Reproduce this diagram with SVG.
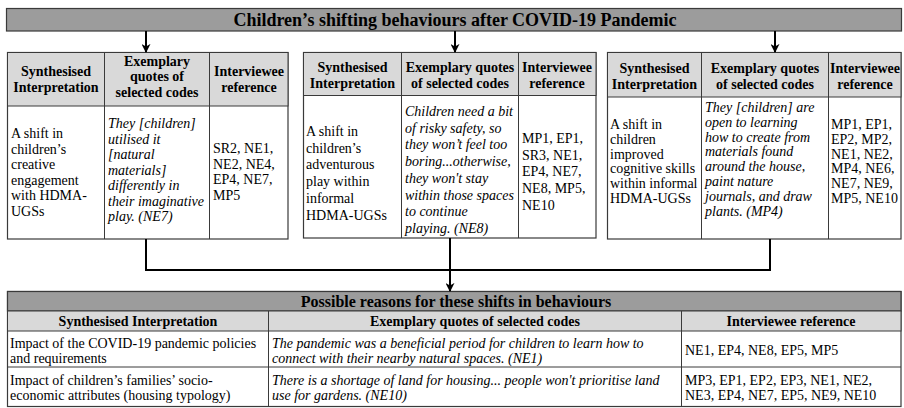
<svg xmlns="http://www.w3.org/2000/svg" width="904" height="408" viewBox="0 0 904 408">
<style>
text{font-family:"Liberation Serif","Times New Roman",serif;fill:#000}
.t{font-size:18px;font-weight:bold;text-anchor:middle}
.st{font-size:16px;font-weight:bold;text-anchor:middle}
.h{font-size:14px;font-weight:bold;text-anchor:middle}
.b{font-size:14px}
.i{font-size:14px;font-style:italic}
.dark{fill:#9c9c9c;stroke:#3a3a3a;stroke-width:1.2}
.light{fill:#d9d9d9;stroke:#3a3a3a;stroke-width:1}
.box{fill:#fff;stroke:#3a3a3a;stroke-width:1.2}
.ln{stroke:#3a3a3a;stroke-width:1;fill:none}
.con{stroke:#000;stroke-width:2;fill:none}
</style>
<defs>
<marker id="ah" viewBox="0 0 10 10" refX="9" refY="5" markerWidth="9" markerHeight="9" markerUnits="userSpaceOnUse" orient="auto">
<path d="M0,0 L10,5 L0,10 L3,5 z" fill="#000"/>
</marker>
</defs>

<g id="title">
<rect class="dark" x="6.5" y="8.5" width="895" height="22.5"/>
<text class="t" x="455" y="26">Children’s shifting behaviours after COVID-19 Pandemic</text>
</g>

<g id="table1">
<rect class="box" x="7.5" y="52.5" width="280.5" height="186.5"/>
<rect class="light" x="7.5" y="52.5" width="280.5" height="53.5"/>
<line class="ln" x1="104.5" y1="52.5" x2="104.5" y2="239"/>
<line class="ln" x1="209.5" y1="52.5" x2="209.5" y2="239"/>
<text class="h" x="56" y="76">Synthesised</text>
<text class="h" x="56" y="92">Interpretation</text>
<text class="h" x="157" y="66">Exemplary</text>
<text class="h" x="157" y="81">quotes of</text>
<text class="h" x="157" y="97">selected codes</text>
<text class="h" x="249" y="76">Interviewee</text>
<text class="h" x="249" y="92">reference</text>
<text class="b" x="11"><tspan x="11" y="138">A shift in</tspan><tspan x="11" y="153.5">children’s</tspan><tspan x="11" y="169">creative</tspan><tspan x="11" y="184.5">engagement</tspan><tspan x="11" y="200">with HDMA-</tspan><tspan x="11" y="215.5">UGSs</tspan></text>
<text class="i" x="108"><tspan x="108" y="128">They [children]</tspan><tspan x="108" y="143.5">utilised it</tspan><tspan x="108" y="159">[natural</tspan><tspan x="108" y="174.5">materials]</tspan><tspan x="108" y="190">differently in</tspan><tspan x="108" y="205.5">their imaginative</tspan><tspan x="108" y="221">play. (NE7)</tspan></text>
<text class="b" x="213"><tspan x="213" y="153">SR2, NE1,</tspan><tspan x="213" y="168.5">NE2, NE4,</tspan><tspan x="213" y="184">EP4, NE7,</tspan><tspan x="213" y="199.5">MP5</tspan></text>
</g>

<g id="table2">
<rect class="box" x="303.5" y="52.5" width="292.5" height="185.5"/>
<rect class="light" x="303.5" y="52.5" width="292.5" height="43"/>
<line class="ln" x1="401.5" y1="52.5" x2="401.5" y2="238"/>
<line class="ln" x1="518.5" y1="52.5" x2="518.5" y2="238"/>
<text class="h" x="352.5" y="72">Synthesised</text>
<text class="h" x="352.5" y="88">Interpretation</text>
<text class="h" x="460" y="72">Exemplary quotes</text>
<text class="h" x="460" y="88">of selected codes</text>
<text class="h" x="557" y="72">Interviewee</text>
<text class="h" x="557" y="88">reference</text>
<text class="b"><tspan x="306" y="136">A shift in</tspan><tspan x="306" y="152.7">children’s</tspan><tspan x="306" y="169.4">adventurous</tspan><tspan x="306" y="186.1">play within</tspan><tspan x="306" y="202.8">informal</tspan><tspan x="306" y="219.5">HDMA-UGSs</tspan></text>
<text class="i"><tspan x="405" y="116">Children need a bit</tspan><tspan x="405" y="132.7">of risky safety, so</tspan><tspan x="405" y="149.4">they won’t feel too</tspan><tspan x="405" y="166.1">boring...otherwise,</tspan><tspan x="405" y="182.8">they won't stay</tspan><tspan x="405" y="199.5">within those spaces</tspan><tspan x="405" y="216.2">to continue</tspan><tspan x="405" y="232.9">playing. (NE8)</tspan></text>
<text class="b"><tspan x="522" y="143">MP1, EP1,</tspan><tspan x="522" y="159.7">SR3, NE1,</tspan><tspan x="522" y="176.4">EP4, NE7,</tspan><tspan x="522" y="193.1">NE8, MP5,</tspan><tspan x="522" y="209.8">NE10</tspan></text>
</g>

<g id="table3">
<rect class="box" x="607.5" y="52.5" width="293.5" height="186.5"/>
<rect class="light" x="607.5" y="52.5" width="293.5" height="44.5"/>
<line class="ln" x1="701.5" y1="52.5" x2="701.5" y2="239"/>
<line class="ln" x1="828.5" y1="52.5" x2="828.5" y2="239"/>
<text class="h" x="654.5" y="73">Synthesised</text>
<text class="h" x="654.5" y="89">Interpretation</text>
<text class="h" x="765" y="73">Exemplary quotes</text>
<text class="h" x="765" y="89">of selected codes</text>
<text class="h" x="865" y="73">Interviewee</text>
<text class="h" x="865" y="89">reference</text>
<text class="b"><tspan x="610" y="129">A shift in</tspan><tspan x="610" y="143.8">children</tspan><tspan x="610" y="158.6">improved</tspan><tspan x="610" y="173.4">cognitive skills</tspan><tspan x="610" y="188.2">within informal</tspan><tspan x="610" y="203">HDMA-UGSs</tspan></text>
<text class="i"><tspan x="705" y="112">They [children] are</tspan><tspan x="705" y="126.8">open to learning</tspan><tspan x="705" y="141.6">how to create from</tspan><tspan x="705" y="156.4">materials found</tspan><tspan x="705" y="171.2">around the house,</tspan><tspan x="705" y="186">paint nature</tspan><tspan x="705" y="200.8">journals, and draw</tspan><tspan x="705" y="215.6">plants. (MP4)</tspan></text>
<text class="b"><tspan x="831" y="129">MP1, EP1,</tspan><tspan x="831" y="143.8">EP2, MP2,</tspan><tspan x="831" y="158.6">NE1, NE2,</tspan><tspan x="831" y="173.4">MP4, NE6,</tspan><tspan x="831" y="188.2">NE7, NE9,</tspan><tspan x="831" y="203">MP5, NE10</tspan></text>
</g>

<g id="reasons">
<rect class="box" x="7.5" y="291.5" width="893.5" height="115"/>
<rect class="dark" x="7.5" y="291.5" width="893.5" height="19.5"/>
<rect class="light" x="7.5" y="311" width="893.5" height="20"/>
<line class="ln" x1="7.5" y1="367" x2="901" y2="367"/>
<line class="ln" x1="268.5" y1="311" x2="268.5" y2="406.5"/>
<line class="ln" x1="681.5" y1="311" x2="681.5" y2="406.5"/>
<text class="st" x="456" y="307">Possible reasons for these shifts in behaviours</text>
<text class="h" x="138" y="326">Synthesised Interpretation</text>
<text class="h" x="475" y="326">Exemplary quotes of selected codes</text>
<text class="h" x="791" y="326">Interviewee reference</text>
<text class="b"><tspan x="10" y="348">Impact of the COVID-19 pandemic policies</tspan><tspan x="10" y="363">and requirements</tspan></text>
<text class="i"><tspan x="272" y="348">The pandemic was a beneficial period for children to learn how to</tspan><tspan x="272" y="363">connect with their nearby natural spaces. (NE1)</tspan></text>
<text class="b" x="685" y="355">NE1, EP4, NE8, EP5, MP5</text>
<text class="b"><tspan x="10" y="385">Impact of children’s families’ socio-</tspan><tspan x="10" y="400">economic attributes (housing typology)</tspan></text>
<text class="i"><tspan x="272" y="385">There is a shortage of land for housing... people won't prioritise land</tspan><tspan x="272" y="400">use for gardens. (NE10)</tspan></text>
<text class="b"><tspan x="685" y="385">MP3, EP1, EP2, EP3, NE1, NE2,</tspan><tspan x="685" y="400">NE3, EP4, NE7, EP5, NE9, NE10</tspan></text>
</g>

<g id="connectors">
<line class="con" x1="146" y1="31" x2="146" y2="52" marker-end="url(#ah)"/>
<line class="con" x1="455" y1="31" x2="455" y2="52" marker-end="url(#ah)"/>
<line class="con" x1="775" y1="31" x2="775" y2="52" marker-end="url(#ah)"/>
<polyline class="con" points="146,239 146,270 770,270 770,239"/>
<line class="con" x1="450" y1="238" x2="450" y2="270"/>
<line class="con" x1="450" y1="270" x2="450" y2="291" marker-end="url(#ah)"/>
</g>
</svg>
